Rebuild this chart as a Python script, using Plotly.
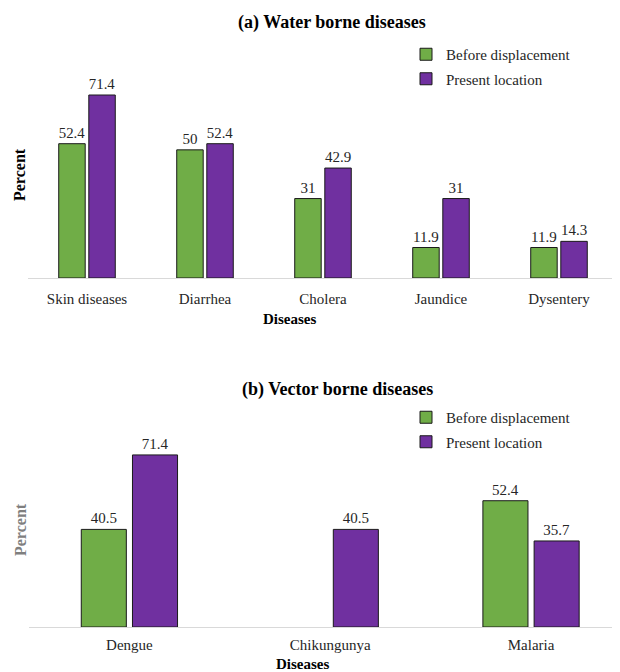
import plotly.graph_objects as go

# Panel (a) Water borne diseases
water_cats = ["Skin diseases", "Diarrhea", "Cholera", "Jaundice", "Dysentery"]
water_before = [52.4, 50, 31, 11.9, 11.9]
water_present = [71.4, 52.4, 42.9, 31, 14.3]

# Panel (b) Vector borne diseases
vector_cats = ["Dengue", "Chikungunya", "Malaria"]
vector_before = [40.5, None, 52.4]
vector_present = [71.4, 40.5, 35.7]

series_names = ["Before displacement", "Present location"]
GREEN = "#70AD47"
PURPLE = "#7030A0"
FONT = "Liberation Serif"
OFF = 8  # browser default body margin
W, H = 620 - OFF, 672 - OFF

def px(p):
    return (p - OFF) / W

def py(p):
    return 1 - (p - OFF) / H

fig = go.Figure()

def lab(vals):
    return ["" if v is None else f"{v:g}" for v in vals]

common = dict(textposition="outside", cliponaxis=False,
              textfont=dict(family=FONT, size=15, color="#262626"),
              marker_line=dict(color="#1a1a1a", width=1))

fig.add_trace(go.Bar(x=water_cats, y=water_before, name=series_names[0], marker_color=GREEN,
                     text=lab(water_before), xaxis="x", yaxis="y", legend="legend",
                     legendgroup="a1", **common))
fig.add_trace(go.Bar(x=water_cats, y=water_present, name=series_names[1], marker_color=PURPLE,
                     text=lab(water_present), xaxis="x", yaxis="y", legend="legend",
                     legendgroup="a2", **common))
fig.add_trace(go.Bar(x=vector_cats, y=vector_before, name=series_names[0], marker_color=GREEN,
                     text=lab(vector_before), xaxis="x2", yaxis="y2", legend="legend2",
                     legendgroup="b1", **common))
fig.add_trace(go.Bar(x=vector_cats, y=vector_present, name=series_names[1], marker_color=PURPLE,
                     text=lab(vector_present), xaxis="x2", yaxis="y2", legend="legend2",
                     legendgroup="b2", **common))

axis_x = dict(showgrid=False, zeroline=False, showline=True, linecolor="#d9d9d9", linewidth=1,
              ticks="", tickfont=dict(family=FONT, size=15, color="#262626"))
axis_y = dict(showgrid=False, zeroline=False, showline=False, showticklabels=False, range=[0, 80])

legend_common = dict(xanchor="left", yanchor="top",
                     font=dict(family=FONT, size=15, color="#262626"),
                     traceorder="grouped", tracegroupgap=2, itemwidth=30,
                     bgcolor="rgba(0,0,0,0)")

fig.update_layout(
    width=W, height=H,
    margin=dict(l=0, r=0, t=0, b=0),
    paper_bgcolor="white", plot_bgcolor="white",
    barmode="group", bargap=0.49, bargroupgap=0.12,
    xaxis=dict(domain=[px(28), px(618)], anchor="y", ticklabelstandoff=7, **axis_x),
    yaxis=dict(domain=[py(278), py(278 - 80 * 2.563)], anchor="x", **axis_y),
    xaxis2=dict(domain=[px(29), 1.0], anchor="y2", range=[-0.5, 2.443], ticklabelstandoff=4, **axis_x),
    yaxis2=dict(domain=[py(627), py(627 - 80 * 2.41)], anchor="x2", **axis_y),
    legend=dict(x=px(406), y=py(38), **legend_common),
    legend2=dict(x=px(406), y=py(401), **legend_common),
    showlegend=True,
)

def note(text, x, y, size, color="black", angle=0):
    return dict(text=text, x=px(x), y=py(y), xref="paper", yref="paper",
                xanchor="center", yanchor="middle", textangle=angle,
                showarrow=False, font=dict(family=FONT, size=size, color=color))

ann = [
    note("<b>(a) Water borne diseases</b>", 332, 22, 18),
    note("<b>(b) Vector borne diseases</b>", 337, 389, 18),
    note("<b>Diseases</b>", 289, 319, 15),
    note("<b>Diseases</b>", 302, 664, 15),
    note("<b>Percent</b>", 19, 175, 16, angle=-90),
    note("<b>Percent</b>", 20, 530, 16, color="#7f7f7f", angle=-90),
]
fig.update_layout(annotations=ann)

fig.write_html("out.html")
